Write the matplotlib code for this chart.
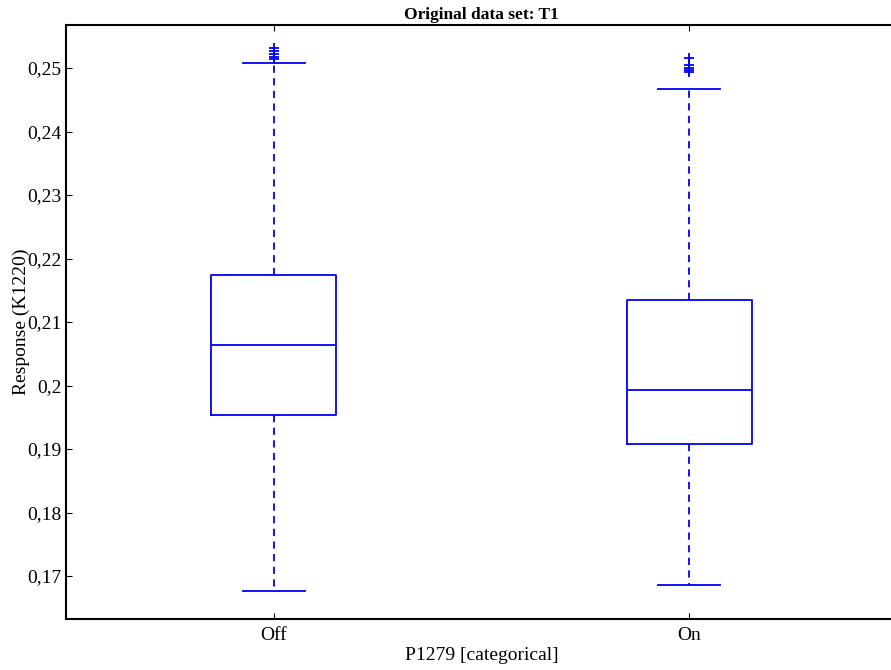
import numpy as np
import matplotlib
matplotlib.use("Agg")
import matplotlib.pyplot as plt
from matplotlib.ticker import FuncFormatter

plt.rcParams['font.family'] = ['Liberation Serif', 'DejaVu Serif']

categories = ['Off', 'On']
q1 = [0.19535, 0.19079]
medians = [0.20638, 0.19929]
q3 = [0.21740, 0.21346]
whisker_low = [0.16764, 0.16858]
whisker_high = [0.25079, 0.24664]
outliers = [
    [0.25310, 0.25262, 0.25218, 0.25170, 0.25140],
    [0.25150, 0.25052, 0.25000, 0.24969, 0.24937],
]

stats = []
for i, name in enumerate(categories):
    stats.append(dict(label=name, med=medians[i], q1=q1[i], q3=q3[i],
                      whislo=whisker_low[i], whishi=whisker_high[i],
                      fliers=np.array(outliers[i])))

fig = plt.figure(figsize=(8.91, 6.70), dpi=100)
ax = fig.add_axes([0.0741, 0.0761, 0.9326, 0.8873])

blue = '#0000ff'
lw = 1.3
ax.bxp(stats, positions=[1, 2], widths=0.30, capwidths=0.148,
       boxprops=dict(color=blue, linewidth=lw),
       medianprops=dict(color=blue, linewidth=lw),
       whiskerprops=dict(color=blue, linewidth=lw, linestyle=(0, (4, 3))),
       capprops=dict(color=blue, linewidth=lw),
       flierprops=dict(marker='+', markeredgecolor=blue, markersize=7,
                       markeredgewidth=1.3, linestyle='none'))

ax.set_xlim(0.5, 2.5)
ax.set_ylim(0.16323, 0.25685)
ax.set_xticks([1, 2])
ax.set_xticklabels(categories)
ax.set_yticks(np.arange(0.17, 0.2501, 0.01))
ax.yaxis.set_major_formatter(FuncFormatter(lambda v, p: ('%g' % round(v, 3)).replace('.', ',')))

ax.tick_params(direction='in', length=4, width=0.8, labelsize=14, top=True, right=True)
ax.tick_params(axis='y', pad=3)
ax.tick_params(axis='x', pad=6)
for s in ax.spines.values():
    s.set_linewidth(1.5)

ax.set_title('Original data set: T1', fontsize=12.5, fontweight='bold', pad=4)
ax.set_xlabel('P1279 [categorical]', fontsize=14, labelpad=2)
ax.set_ylabel('Response (K1220)', fontsize=14)
ax.yaxis.set_label_coords(-0.0434, 0.5)

fig.savefig('out.png', dpi=100)
